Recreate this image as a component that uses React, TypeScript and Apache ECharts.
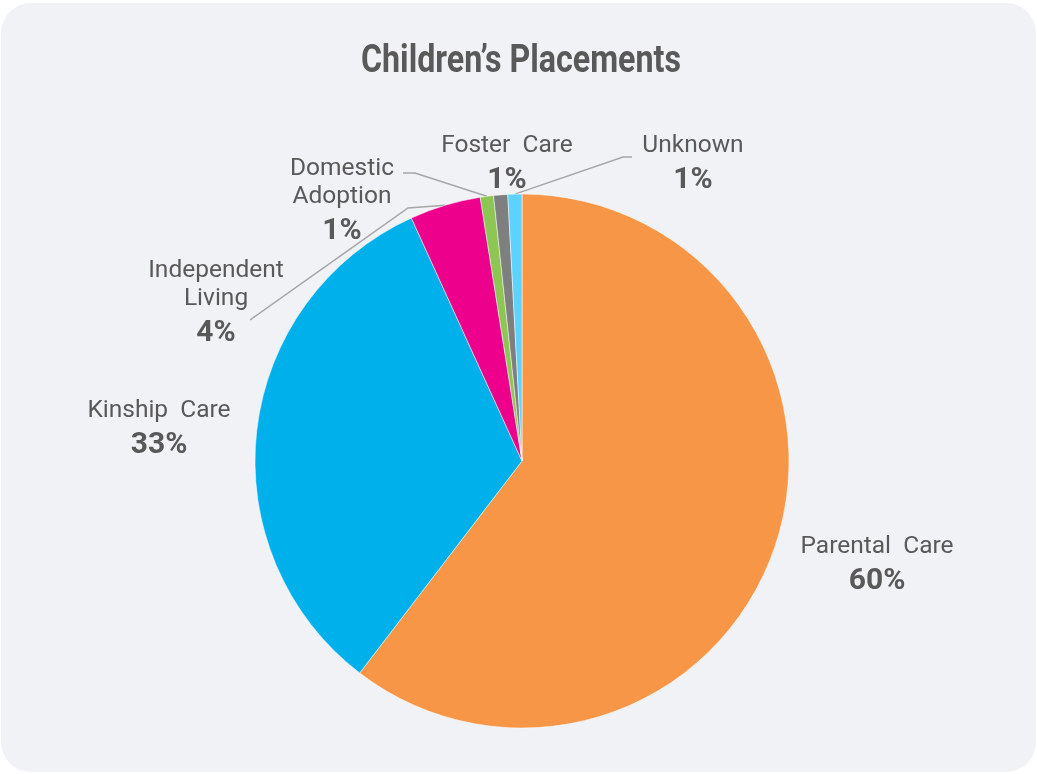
import React, { useEffect, useRef } from "react";
import * as echarts from "echarts";

const categories = ["Parental Care", "Kinship Care", "Independent Living", "Domestic Adoption", "Foster Care", "Unknown"];
const values = [60.4, 32.8, 4.3, 0.8, 0.85, 0.85];
const colors = ["#F79646", "#00B0EA", "#EC008C", "#8DC653", "#7F7F7F", "#5DD2FF"];
const labelTexts = ["Parental  Care", "Kinship  Care", "Independent\nLiving", "Domestic\nAdoption", "Foster  Care", "Unknown"];
const titleText = "Children’s Placements";
// label block anchor: [centerX, top]
const labelPos = [[877, 530], [159, 394], [216, 254], [342, 152], [507, 129], [693, 129]];
const guidePts: (number[][] | null)[] = [null, null, [[408, 208], [250, 320]], [[415, 173], [403, 173]], null, [[623, 157], [632, 157]]];

export default function App() {
  const ref = useRef<HTMLDivElement>(null);
  useEffect(() => {
    if (!ref.current) return;
    const chart = echarts.init(ref.current, null, { renderer: "svg" });
    const titleFont = 'bold 38px Roboto';
    let scaleX = 0.82;
    try {
      const ctx = document.createElement("canvas").getContext("2d");
      if (ctx) {
        ctx.font = titleFont;
        const w = ctx.measureText(titleText).width;
        if (w > 0) scaleX = 320 / w;
      }
    } catch (e) {}
    const data = categories.map((name, i) => ({
      name,
      value: values[i],
      itemStyle: { color: colors[i] },
      labelLine: { show: guidePts[i] != null },
    }));
    chart.setOption({
      animation: false,
      graphic: [
        {
          type: "rect",
          z: -10,
          shape: { x: 1, y: 3, width: 1035, height: 769, r: 30 },
          style: { fill: "#F0F2F5" },
          silent: true,
        },
        {
          type: "text",
          x: 521,
          y: 59,
          scaleX,
          style: {
            text: titleText,
            font: titleFont,
            fill: "#595959",
            align: "center",
            verticalAlign: "middle",
          },
        },
      ],
      series: [
        {
          type: "pie",
          center: [522, 461],
          radius: 267,
          startAngle: 90,
          clockwise: true,
          avoidLabelOverlap: false,
          emphasis: { disabled: true },
          itemStyle: { borderColor: "rgba(255,255,255,0.5)", borderWidth: 1 },
          data,
          label: {
            show: true,
            position: "outside",
            formatter: (p: any) => {
              const lines = labelTexts[p.dataIndex]
                .split("\n")
                .map((s) => `{n|${s}}`)
                .join("\n");
              return `${lines}\n{p|${Math.round(p.percent)}%}`;
            },
            rich: {
              n: { fontFamily: "Roboto", fontSize: 24.5, color: "#595959", lineHeight: 28, align: "center" },
              p: { fontFamily: "Roboto", fontWeight: "bold", fontSize: 30, color: "#595959", lineHeight: 41, align: "center" },
            },
          },
          labelLine: {
            show: true,
            length: 10,
            length2: 10,
            lineStyle: { color: "#A6A6A6", width: 1.5 },
          },
          labelLayout: (params: any) => {
            const i = params.dataIndex;
            const res: any = {
              x: labelPos[i][0],
              y: labelPos[i][1],
              align: "center",
              verticalAlign: "top",
            };
            const g = guidePts[i];
            if (g && params.labelLinePoints) {
              res.labelLinePoints = [params.labelLinePoints[0], g[0], g[1]];
            }
            return res;
          },
        },
      ],
    });
    return () => chart.dispose();
  }, []);
  return <div ref={ref} style={{ position: "fixed", left: 0, top: 0, width: 1037, height: 774 }} />;
}
